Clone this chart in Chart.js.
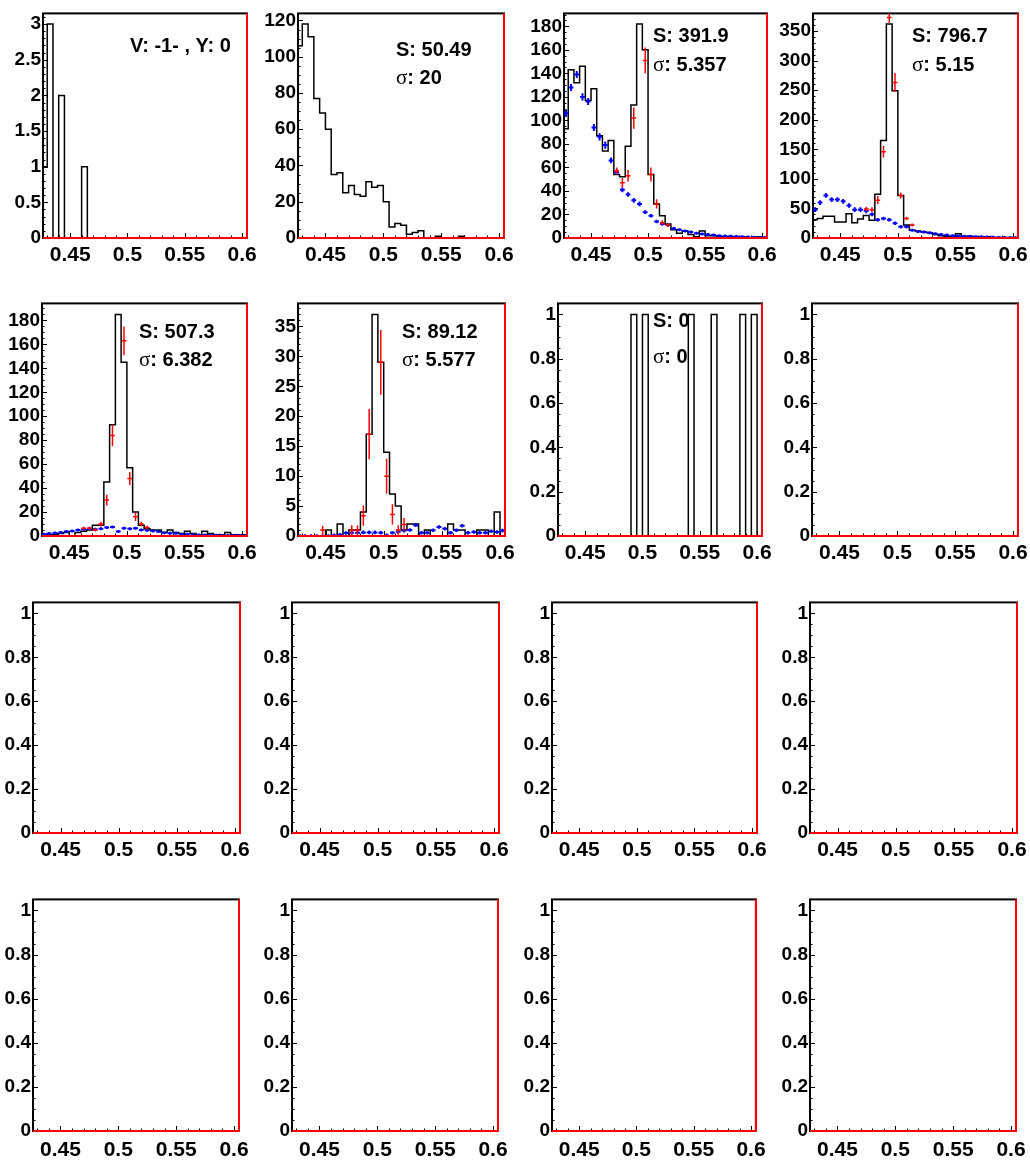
<!DOCTYPE html>
<html><head><meta charset="utf-8">
<script src="https://cdn.jsdelivr.net/npm/chart.js@4.4.1/dist/chart.umd.min.js"></script>
<style>
html,body{margin:0;padding:0;background:#fff;}
#wrap{position:relative;width:1030px;height:1167px;overflow:hidden;background:#fff;}
#wrap canvas{position:absolute;}
</style></head><body><div id="wrap"></div>
<script>
// ---------- axis / binning ----------
const X_MIN = 0.4263, X_MAX = 0.6043;
const binEdges = [0.4263,0.430,0.435,0.440,0.445,0.450,0.455,0.460,0.465,0.470,0.475,0.480,0.485,0.490,0.495,0.500,
  0.505,0.510,0.515,0.520,0.525,0.530,0.535,0.540,0.545,0.550,0.555,0.560,0.565,0.570,0.575,0.580,0.585,0.590,0.595,0.600,0.6043];
const xTickValues = [0.45, 0.5, 0.55, 0.6];
const xTickLabels = ['0.45', '0.5', '0.55', '0.6'];

// ---------- y tick labels ----------
const yTicks1 = [0,0.5,1,1.5,2,2.5,3];      const yLabels1 = ['0','0.5','1','1.5','2','2.5','3'];
const yTicks2 = [0,20,40,60,80,100,120];    const yLabels2 = ['0','20','40','60','80','100','120'];
const yTicks3 = [0,20,40,60,80,100,120,140,160,180];
const yLabels3 = ['0','20','40','60','80','100','120','140','160','180'];
const yTicks4 = [0,50,100,150,200,250,300,350]; const yLabels4 = ['0','50','100','150','200','250','300','350'];
const yTicks6 = [0,5,10,15,20,25,30,35];    const yLabels6 = ['0','5','10','15','20','25','30','35'];
const yTicksU = [0,0.2,0.4,0.6,0.8,1];      const yLabelsU = ['0','0.2','0.4','0.6','0.8','1'];

// ---------- histogram contents (36 bins) ----------
const counts1 = [1,3,0,2,0,0,0,1,0,0,0,0,0,0,0,0,0,0,0,0,0,0,0,0,0,0,0,0,0,0,0,0,0,0,0,0];
const counts2 = [106,118,111,77,69,60,35,36,25,29,24,23,31,28,29,20,6,8,7,2,3,4,0,0,1,0,0,0,1,0,0,0,0,0,0,0];
const counts3 = [93,143,132,146,117,127,87,74,83,54,52,78,113,182,160,54,29,19,12,7,4,6,3,1,6,2,2,1,1,1,0,1,0,0,1,0];
const counts4 = [31,33,37,37,27,27,41,26,32,38,30,74,165,362,249,72,22,13,12,10,9,6,4,3,2,7,2,3,2,1,2,1,1,0,1,0];
const counts5 = [1,1,1,2,3,0,3,4,5,9,9,45,93,185,145,57,20,9,6,5,5,3,5,3,2,4,2,1,4,2,1,1,3,1,1,1];
const counts6 = [0,0,0,0,0,1,0,2,0,1,1,4,17,37,29,14,7,5,1,2,2,0,1,0,0,0,2,1,1,0,0,1,1,0,4,0];
const counts7 = [0,0,0,0,0,0,0,0,0,0,0,0,0,1,0,1,0,0,0,0,0,0,0,1,0,0,0,1,0,0,0,0,1,0,1,0];
const countsEmpty = [0,0,0,0,0,0,0,0,0,0,0,0,0,0,0,0,0,0,0,0,0,0,0,0,0,0,0,0,0,0,0,0,0,0,0,0];

// ---------- blue (background) points, per bin ----------
const blue3 = [106,128,139,120,116,94,86,79,66,56,41,37,32,29,22,19,14,12,11,8,7,6,5,4,3.5,3,2.5,2,1.8,1.5,1.2,1,0.8,0.6,0.5,0.4];
const blueErr3 = [3,3,3,3,3,3,3,3,2.5,2.5,2,2,2,2,1.5,1.5,1.5,1.5,1.5,1,1,1,1,1,1,1,1,1,1,1,1,1,1,1,1,1];
const blue4 = [48,60,72,65,65,62,55,48,48,46,40,31,33,31,25,19,19,13,11,10,9,7,6,5,4,3.5,3,2.5,2,2,1.5,1.2,1,0.8,0.6,0.5];
const blueErr4 = [4,4,4,4,4,4,4,4,4,4,3,3,3,3,3,3,3,2,2,2,2,2,2,2,2,2,2,2,2,2,2,2,2,2,2,2];
const blue5 = [1.4,2,2.5,3,3.7,4.2,5,5.6,6,5.6,6,7,7.6,3.7,6.5,6,6.5,5,4.8,4.2,3.7,2.8,2.3,2.3,1.4,1.4,1,0.8,0.8,0.6,0.6,0.5,0.5,0.4,0.4,0.3];
const blueErr5 = [0.6,0.6,0.6,0.6,0.6,0.6,0.6,0.6,0.6,0.6,0.6,0.6,0.6,0.6,0.6,0.6,0.6,0.6,0.6,0.6,0.6,0.6,0.6,0.6,0.6,0.6,0.6,0.6,0.6,0.6,0.6,0.6,0.6,0.6,0.6,0.6];
const blue6 = [0,0,0,0,0,0,0.1,0.2,0.5,0.55,0.55,0.6,0.6,0.6,0.55,0.1,0.55,0.7,0.9,1.0,1.8,0.55,0.55,0.95,1.5,1.2,0.55,0.95,1.7,0.55,0.67,0.55,0.55,0.8,0.67,0.9];
const blueErr6 = [0.3,0.3,0.3,0.3,0.3,0.3,0.3,0.3,0.3,0.3,0.3,0.3,0.3,0.3,0.3,0.3,0.3,0.3,0.3,0.3,0.3,0.3,0.3,0.3,0.3,0.3,0.3,0.3,0.3,0.3,0.3,0.3,0.3,0.3,0.3,0.3];

// ---------- red (signal) points: bin index, value, error ----------
const redBins3 = [9,10,11,12,14,15,16,17,18];
const redVals3 = [57,47,53,102,151,54,29,13,11];
const redErr3  = [3,4,5,9,11,6,4,2,1.5];
const redBins4 = [9,10,11,12,13,14,15,16,17];
const redVals4 = [49,48,64,146,373,263,72,33,22];
const redErr4  = [4,4,7,10,9,16,5,3,2];
const redBins5 = [7,8,9,10,11,12,14,15,16,17,18];
const redVals5 = [6.5,6.5,5,10,30,84,163,48,16,10,7];
const redErr5  = [1,1,1,2,4.5,9,12,5.5,3.4,2,1.5];
const redBins6 = [4,9,10,11,12,14,15,16,17,18];
const redVals6 = [1,1,1,3.4,17,29,10,3.6,1,1.9];
const redErr6  = [0.7,0.8,0.8,1.7,4.2,5.4,2.9,1.7,0.8,1.1];

// ---------- axis maxima ----------
const yMaxes = [3.15,123.9,191,380,194.25,38.85,1.05,1.05,1.05,1.05,1.05,1.05,1.05,1.05,1.05,1.05];

// ---------- annotations ----------
const texts = [
  [['', 'V: -1- , Y: 0']],
  [['S', ': 50.49'], ['σ', ': 20']],
  [['S', ': 391.9'], ['σ', ': 5.357']],
  [['S', ': 796.7'], ['σ', ': 5.15']],
  [['S', ': 507.3'], ['σ', ': 6.382']],
  [['S', ': 89.12'], ['σ', ': 5.577']],
  [['S', ': 0'], ['σ', ': 0']]
];

// ---------- layout (frame boxes [left, top, right, bottom]) ----------
const frames = [
  [43,4,247,238],[298,4,504,238],[564,4,767,238],[813,4,1018,238],
  [42,300,247,536],[298,300,505,536],[558,300,762,536],[812,300,1018,536],
  [33,599,240,833],[292,599,499,833],[552,599,757,833],[810,599,1017,833],
  [33,896,240,1131],[292,896,499,1131],[552,896,757,1131],[810,896,1017,1131]
];
const textPos = [
  [[87,39]], [[98,43],[98,71]], [[89,29],[89,58]], [[99,29],[99,58]],
  [[97,35],[97,63]], [[104,35],[104,63]], [[95,24],[95,60]]
];

const FONT = '"Liberation Sans", Arial, Helvetica, sans-serif';

const rootPlugin = {
  id: 'rootStyle',
  beforeDatasetsDraw(chart) {
    const o = chart.options.plugins.rootStyle;
    const {ctx, chartArea: a} = chart;
    const xs = chart.scales.x, ys = chart.scales.y;
    ctx.save();
    ctx.strokeStyle = '#000';
    ctx.lineWidth = 1;
    ctx.beginPath();
    for (let k = 43; k <= 60; k++) {
      const v = k / 100;
      const px = Math.round(xs.getPixelForValue(v)) + 0.5;
      const len = (k % 5 === 0) ? 5 : 2.5;
      ctx.moveTo(px, a.bottom); ctx.lineTo(px, a.bottom - len);
    }
    const nMinor = Math.floor(o.yMax / o.yMinor + 1e-6);
    const ratio = Math.round(o.yMajor / o.yMinor);
    for (let k = 0; k <= nMinor; k++) {
      const v = k * o.yMinor;
      const py = Math.round(ys.getPixelForValue(v)) + 0.5;
      const len = (k % ratio === 0) ? 5 : 2.5;
      ctx.moveTo(a.left, py); ctx.lineTo(a.left + len, py);
    }
    ctx.stroke();
    ctx.lineWidth = 2;
    ctx.strokeRect(a.left, a.top, a.right - a.left, a.bottom - a.top);
    ctx.restore();
  },
  afterDatasetsDraw(chart) {
    const {ctx, chartArea: a} = chart;
    const xs = chart.scales.x, ys = chart.scales.y;
    ctx.save();
    ctx.beginPath();
    ctx.rect(a.left, a.top, a.right - a.left, a.bottom - a.top);
    ctx.clip();
    chart.data.datasets.forEach(ds => {
      if (!ds.errY) return;
      ctx.strokeStyle = ds.borderColor;
      ctx.lineWidth = ds.errWidth;
      ctx.beginPath();
      ds.data.forEach((p, i) => {
        if (p.y === null) return;
        const px = xs.getPixelForValue(p.x);
        const py = ys.getPixelForValue(p.y);
        const x0 = xs.getPixelForValue(p.x - ds.errX), x1 = xs.getPixelForValue(p.x + ds.errX);
        const e = ds.errY[i];
        const y0 = ys.getPixelForValue(p.y - e), y1 = ys.getPixelForValue(p.y + e);
        ctx.moveTo(x0, py); ctx.lineTo(x1, py);
        ctx.moveTo(px, Math.max(y0, py + 1.5)); ctx.lineTo(px, Math.min(y1, py - 1.5));
      });
      ctx.stroke();
    });
    // fit line redrawn on top of the frame
    chart.data.datasets.forEach((ds, di) => {
      if (!ds.isFit) return;
      ctx.restore(); ctx.save();
      ctx.strokeStyle = ds.borderColor; ctx.lineWidth = ds.borderWidth;
      ctx.beginPath();
      ds.data.forEach((p, i) => {
        const px = xs.getPixelForValue(p.x), py = ys.getPixelForValue(p.y);
        if (i === 0) ctx.moveTo(px, py); else ctx.lineTo(px, py);
      });
      ctx.stroke();
    });
    ctx.restore();
  },
  afterDraw(chart) {
    const o = chart.options.plugins.rootStyle;
    if (!o.text) return;
    const {ctx, chartArea: a} = chart;
    ctx.save();
    ctx.fillStyle = '#000';
    ctx.textBaseline = 'alphabetic';
    o.text.forEach((ln, i) => {
      let x = a.left + o.textPos[i][0];
      const y = a.top + o.textPos[i][1];
      const sym = ln[0], rest = ln[1];
      if (sym === 'σ') {
        ctx.font = '21px "Liberation Serif", "DejaVu Serif", serif';
        ctx.fillText(sym, x, y);
        x += ctx.measureText(sym).width;
      } else if (sym) {
        ctx.font = 'bold 20px ' + FONT;
        ctx.fillText(sym, x, y);
        x += ctx.measureText(sym).width;
      }
      ctx.font = 'bold 20px ' + FONT;
      ctx.fillText(rest, x, y);
    });
    ctx.restore();
  }
};

const panelData = [
  {counts: counts1, yT: yTicks1, yL: yLabels1, major: 0.5, minor: 0.1},
  {counts: counts2, yT: yTicks2, yL: yLabels2, major: 20, minor: 5},
  {counts: counts3, yT: yTicks3, yL: yLabels3, major: 20, minor: 5, blue: blue3, blueErr: blueErr3, rb: redBins3, rv: redVals3, re: redErr3},
  {counts: counts4, yT: yTicks4, yL: yLabels4, major: 50, minor: 10, blue: blue4, blueErr: blueErr4, rb: redBins4, rv: redVals4, re: redErr4},
  {counts: counts5, yT: yTicks3, yL: yLabels3, major: 20, minor: 5, blue: blue5, blueErr: blueErr5, rb: redBins5, rv: redVals5, re: redErr5},
  {counts: counts6, yT: yTicks6, yL: yLabels6, major: 5, minor: 1, blue: blue6, blueErr: blueErr6, rb: redBins6, rv: redVals6, re: redErr6},
  {counts: counts7, yT: yTicksU, yL: yLabelsU, major: 0.2, minor: 0.05}
];
for (let i = 7; i < 16; i++) panelData.push({counts: countsEmpty, yT: yTicksU, yL: yLabelsU, major: 0.2, minor: 0.05});

const centers = binEdges.slice(0, -1).map((e, i) => (e + binEdges[i + 1]) / 2);
const wrap = document.getElementById('wrap');

panelData.forEach((pd, idx) => {
  const [fl, ft, fr, fb] = frames[idx];
  const row = Math.floor(idx / 4);
  const padTop = row === 0 ? 4 : 10;
  const yW = 44, xH = 34, padR = 16;
  const cw = (fr - fl) + yW + padR, ch = (fb - ft) + padTop + xH;
  const cv = document.createElement('canvas');
  cv.width = cw; cv.height = ch;
  cv.style.left = (fl - yW) + 'px'; cv.style.top = (ft - padTop) + 'px';
  cv.style.width = cw + 'px'; cv.style.height = ch + 'px';
  wrap.appendChild(cv);
  const yMax = yMaxes[idx];

  const histPts = pd.counts.map((c, i) => ({x: binEdges[i], y: c}));
  histPts.push({x: binEdges[binEdges.length - 1], y: pd.counts[pd.counts.length - 1]});
  const datasets = [{
    data: histPts, stepped: 'before', borderColor: '#000', borderWidth: 1.5,
    pointRadius: 0, fill: false, tension: 0, order: 3
  }];
  if (pd.blue) {
    datasets.push({data: pd.blue.map((v, i) => ({x: centers[i], y: v})), showLine: false, pointRadius: 0,
      borderColor: '#0000ff', errX: 0.0021, errY: pd.blueErr, errWidth: 2, order: 2});
  }
  if (pd.rb) {
    datasets.push({data: pd.rb.map((b, i) => ({x: centers[b], y: pd.rv[i]})), showLine: false, pointRadius: 0,
      borderColor: '#ff0000', errX: 0.0021, errY: pd.re, errWidth: 1.5, order: 1});
  }
  const fitX = [X_MIN, X_MAX, X_MAX], fitY = [0, 0, yMax];
  datasets.push({data: fitX.map((x, i) => ({x, y: fitY[i]})), borderColor: '#ff0000', borderWidth: 2,
    pointRadius: 0, fill: false, clip: false, tension: 0, order: 0, isFit: true});

  const xPad = row === 3 ? 7 : 5;
  new Chart(cv, {
    type: 'line',
    data: {datasets},
    plugins: [rootPlugin],
    options: {
      responsive: false, animation: false, devicePixelRatio: 1,
      events: [],
      layout: {padding: {left: 0, right: padR, top: padTop, bottom: 0}, autoPadding: false},
      plugins: {
        legend: {display: false}, tooltip: {enabled: false},
        rootStyle: {yMax, yMajor: pd.major, yMinor: pd.minor, text: texts[idx], textPos: textPos[idx]}
      },
      scales: {
        x: {
          type: 'linear', min: X_MIN, max: X_MAX,
          grid: {display: false, drawTicks: false}, border: {display: false},
          afterBuildTicks: s => { s.ticks = xTickValues.map(v => ({value: v})); },
          afterFit: s => { s.height = xH; },
          ticks: {padding: xPad, color: '#000', autoSkip: false, maxRotation: 0, minRotation: 0,
            font: {family: FONT, weight: 'bold', size: 21},
            callback: (v, i) => xTickLabels[i]}
        },
        y: {
          type: 'linear', min: 0, max: yMax,
          grid: {display: false, drawTicks: false}, border: {display: false},
          afterBuildTicks: s => { s.ticks = pd.yT.map(v => ({value: v})); },
          afterFit: s => { s.width = yW; },
          ticks: {padding: 2, color: '#000', autoSkip: false,
            font: {family: FONT, weight: 'bold', size: 19},
            callback: (v, i) => pd.yL[i]}
        }
      }
    }
  });
});
</script>
</body></html>
